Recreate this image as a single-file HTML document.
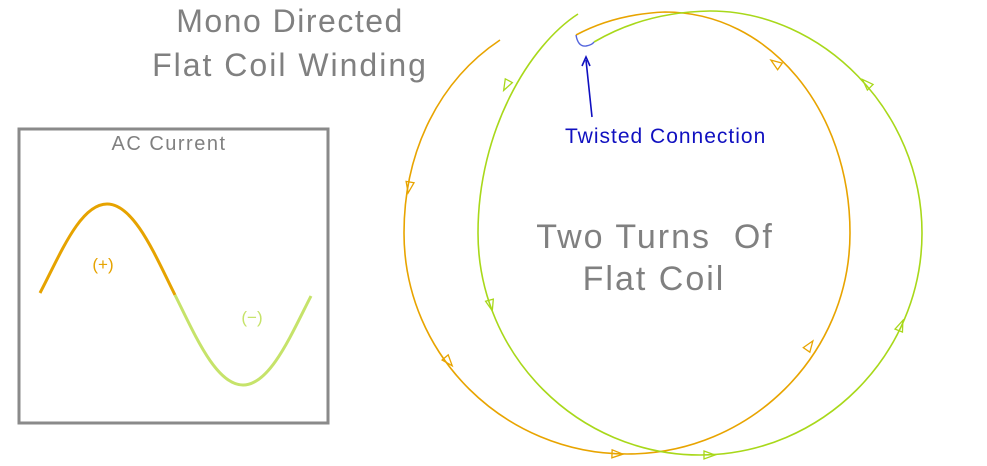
<!DOCTYPE html>
<html><head><style>
body{margin:0;background:#fff;}
svg{display:block;font-family:"Liberation Sans",sans-serif;}
</style></head><body>
<svg width="987" height="466" viewBox="0 0 987 466">
<rect width="987" height="466" fill="#fff"/>
<text x="290" y="32" font-size="32" fill="#808080" text-anchor="middle" letter-spacing="1.5">Mono Directed</text>
<text x="290" y="76" font-size="32" fill="#808080" text-anchor="middle" letter-spacing="2">Flat Coil Winding</text>
<rect x="19" y="129" width="309" height="294" fill="none" stroke="#8a8a8a" stroke-width="3"/>
<text x="169" y="150" font-size="20" fill="#808080" text-anchor="middle" letter-spacing="1.5">AC Current</text>
<path d="M40,293 C60,255 80,204 107,204 C134,204 155,255 175,295" fill="none" stroke="#e6a300" stroke-width="3"/>
<path d="M175,295 C195,335 216,385 243,385 C270,385 291,335 311,296" fill="none" stroke="#c6e36a" stroke-width="3"/>
<text x="103" y="270" font-size="17" fill="#e6a300" text-anchor="middle">(+)</text>
<text x="252" y="323" font-size="17" fill="#c6e36a" text-anchor="middle">(−)</text>
<g fill="none" stroke-width="1.6">
<path d="M500,40 C440,80 404,150 404,233 C404,355 504,454 627,454 C750,454 850,355 850,233 C850,111 770,12 665,12 Q615,14 576,35" stroke="#e8a400"/>
<path d="M578,14 C530,45 478,130 478,233 C478,355 578,455 700,455 C822,455 922,355 922,233 C922,111 822,11 710,11 Q645,12 594,42" stroke="#a8d81a"/>
<path d="M576,35 Q578,47 586,46 Q592,45 594,42" stroke="#5566dd" stroke-width="1.4"/>
<line x1="592" y1="117" x2="586" y2="60" stroke="#1010c0" stroke-width="1.6"/>
<polyline points="582,66 586,57 590,66" stroke="#1010c0" stroke-width="1.6"/>
</g>
<defs><polygon id="a" points="-6,-4 5,0 -6,4 -6,-4" fill="none" stroke-width="1.3"/></defs>
<g stroke="#e8a400">
<use href="#a" transform="translate(409,188) rotate(100)"/>
<use href="#a" transform="translate(449,362) rotate(50)"/>
<use href="#a" transform="translate(618,454) rotate(2)"/>
<use href="#a" transform="translate(810,345) rotate(-55)"/>
<use href="#a" transform="translate(775,63) rotate(-145)"/>
</g>
<g stroke="#a8d81a">
<use href="#a" transform="translate(506,86) rotate(118)"/>
<use href="#a" transform="translate(491,306) rotate(75)"/>
<use href="#a" transform="translate(710,455) rotate(0)"/>
<use href="#a" transform="translate(901,325) rotate(-68)"/>
<use href="#a" transform="translate(866,83) rotate(-135)"/>
</g>
<text x="565" y="143" font-size="21" fill="#1010c0" letter-spacing="1">Twisted Connection</text>
<text x="655" y="248" font-size="34" fill="#808080" text-anchor="middle" letter-spacing="2" xml:space="preserve">Two Turns  Of</text>
<text x="654" y="290" font-size="34" fill="#808080" text-anchor="middle" letter-spacing="2">Flat Coil</text>
</svg>
</body></html>
